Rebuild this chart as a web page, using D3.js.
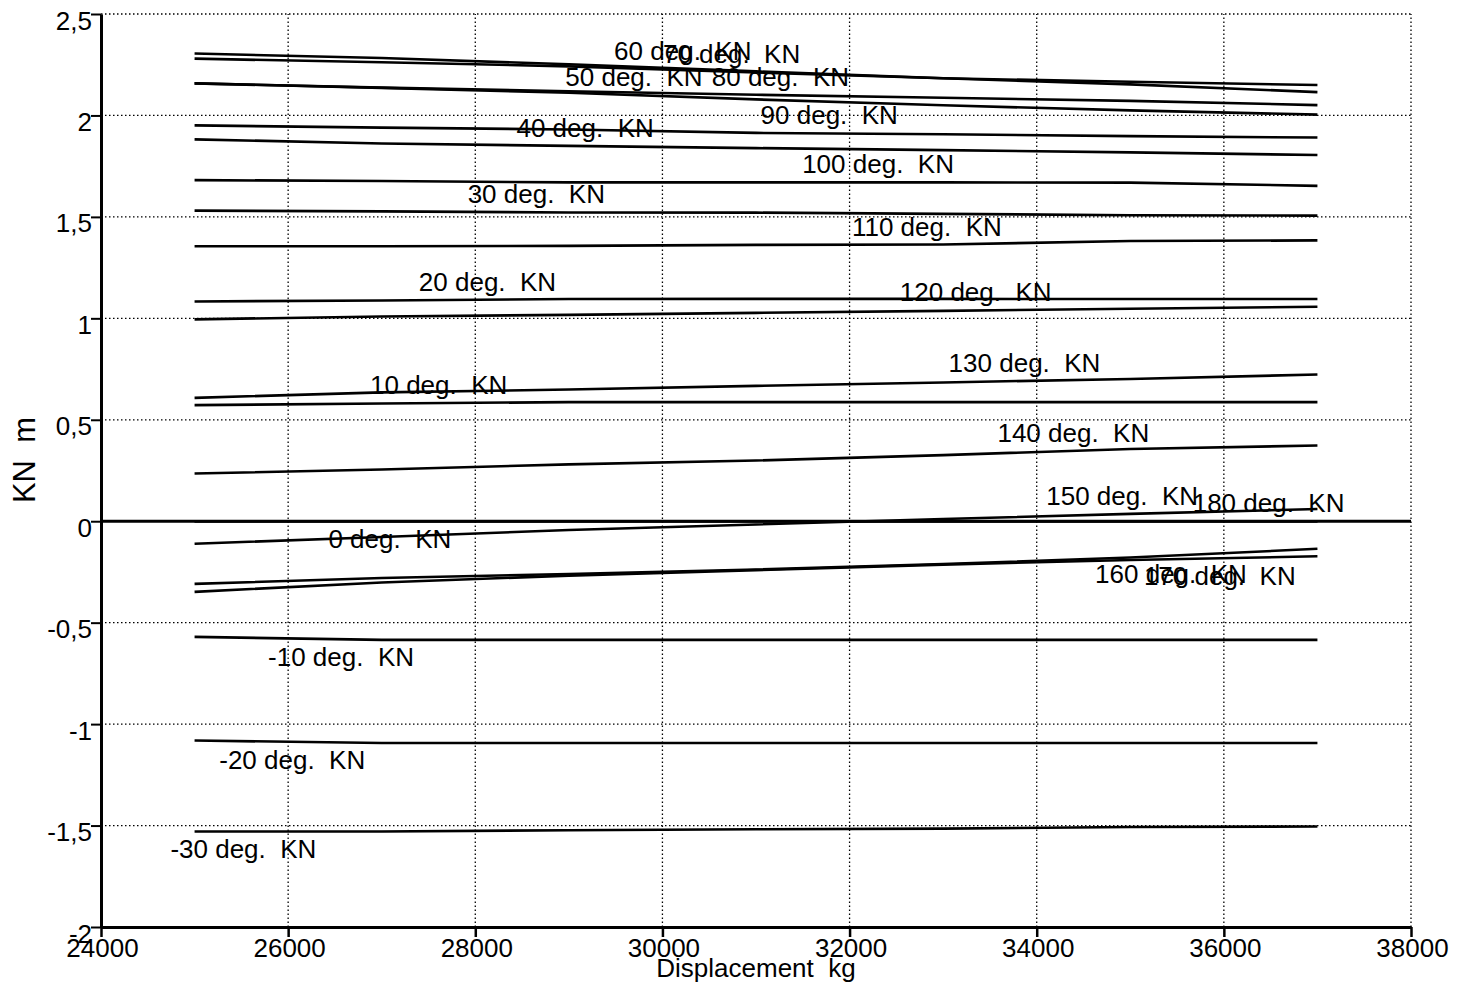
<!DOCTYPE html>
<html>
<head>
<meta charset="utf-8">
<script src="https://cdn.jsdelivr.net/npm/d3@7"></script>
<style>
  body { margin: 0; background: #fff; }
  text { font-family: "Liberation Sans", Arial, sans-serif; font-size: 26px; fill: #000; }
</style>
</head>
<body>
<div id="chart"></div>
<script>
// displacement points (kg) where KN was read
const displacement = [25000, 27000, 29000, 31000, 33000, 35000, 37000];
const xTicks = [24000, 26000, 28000, 30000, 32000, 34000, 36000, 38000];
const yTicks = [-2, -1.5, -1, -0.5, 0, 0.5, 1, 1.5, 2, 2.5];

// KN values (m) per heel angle
const kn_m30 = [-1.529, -1.529, -1.523, -1.518, -1.515, -1.507, -1.505];
const kn_m20 = [-1.081, -1.093, -1.093, -1.093, -1.093, -1.093, -1.093];
const kn_m10 = [-0.570, -0.585, -0.585, -0.585, -0.585, -0.585, -0.585];
const kn_0   = [0, 0, 0, 0, 0, 0, 0];
const kn_10  = [0.572, 0.580, 0.587, 0.587, 0.587, 0.587, 0.587];
const kn_20  = [1.083, 1.088, 1.095, 1.096, 1.096, 1.095, 1.095];
const kn_30  = [1.531, 1.527, 1.522, 1.521, 1.515, 1.508, 1.506];
const kn_40  = [1.882, 1.862, 1.850, 1.839, 1.829, 1.818, 1.805];
const kn_50  = [2.158, 2.136, 2.112, 2.079, 2.050, 2.025, 2.004];
const kn_60  = [2.305, 2.283, 2.252, 2.217, 2.183, 2.153, 2.115];
const kn_70  = [2.280, 2.262, 2.242, 2.212, 2.183, 2.166, 2.150];
const kn_80  = [2.158, 2.137, 2.119, 2.102, 2.087, 2.072, 2.051];
const kn_90  = [1.951, 1.940, 1.931, 1.914, 1.907, 1.898, 1.891];
const kn_100 = [1.681, 1.677, 1.670, 1.670, 1.670, 1.669, 1.653];
const kn_110 = [1.355, 1.355, 1.357, 1.362, 1.364, 1.381, 1.384];
const kn_120 = [0.995, 1.009, 1.017, 1.027, 1.037, 1.047, 1.057];
const kn_130 = [0.608, 0.635, 0.649, 0.667, 0.684, 0.701, 0.723];
const kn_140 = [0.235, 0.255, 0.280, 0.299, 0.326, 0.356, 0.373];
const kn_150 = [-0.111, -0.078, -0.043, -0.016, 0.011, 0.036, 0.060];
const kn_160 = [-0.309, -0.280, -0.260, -0.238, -0.211, -0.179, -0.136];
const kn_170 = [-0.348, -0.302, -0.268, -0.241, -0.214, -0.191, -0.173];
const kn_180 = [0, 0, 0, 0, 0, 0, 0];

const angles = [-30, -20, -10, 0, 10, 20, 30, 40, 50, 60, 70, 80, 90, 100, 110, 120, 130, 140, 150, 160, 170, 180];
const knByAngle = [kn_m30, kn_m20, kn_m10, kn_0, kn_10, kn_20, kn_30, kn_40, kn_50, kn_60, kn_70,
                   kn_80, kn_90, kn_100, kn_110, kn_120, kn_130, kn_140, kn_150, kn_160, kn_170, kn_180];

const series = angles.map((a, i) => ({
    angle: a,
    points: displacement.map((d, j) => ({disp: d, kn: knByAngle[i][j]}))
}));

// page size and plot box
const W = 1472, H = 988;
const margin = {top: 14, right: 61, bottom: 61, left: 101};

const svg = d3.select("#chart")
    .append("svg")
    .attr("width", W)
    .attr("height", H);

const x = d3.scaleLinear()
    .domain([24000, 38000])
    .range([margin.left, W - margin.right]);

const y = d3.scaleLinear()
    .domain([-2, 2.5])
    .range([H - margin.bottom, margin.top]);

// dotted grid
const grid = svg.append("g")
    .attr("stroke", "#000")
    .attr("stroke-width", 1.3)
    .attr("stroke-dasharray", "1.5,2.5");

grid.selectAll(".vgrid")
    .data(xTicks.slice(1))
    .join("line")
    .attr("x1", d => x(d)).attr("x2", d => x(d))
    .attr("y1", y(-2)).attr("y2", y(2.5));

grid.selectAll(".hgrid")
    .data(yTicks.slice(1))
    .join("line")
    .attr("x1", x(24000)).attr("x2", x(38000))
    .attr("y1", d => y(d)).attr("y2", d => y(d));

// zero reference line
svg.append("line")
    .attr("x1", x(24000)).attr("x2", x(38000))
    .attr("y1", y(0)).attr("y2", y(0))
    .attr("stroke", "#000")
    .attr("stroke-width", 3);

const line = d3.line()
    .x(d => x(d.disp))
    .y(d => y(d.kn));

svg.append("g")
    .selectAll("path")
    .data(series)
    .join("path")
    .attr("d", d => line(d.points))
    .attr("fill", "none")
    .attr("stroke", "#000")
    .attr("stroke-width", 2.6)
    .attr("stroke-linejoin", "round");

// axes
const fmt = d => String(d).replace(".", ",");

const yAxis = svg.append("g")
    .attr("transform", `translate(${margin.left},0)`)
    .call(d3.axisLeft(y).tickValues(yTicks).tickFormat(fmt).tickSize(10).tickSizeOuter(0));
yAxis.select(".domain").attr("stroke-width", 3);
yAxis.selectAll(".tick line").attr("stroke-width", 2);
yAxis.selectAll(".tick text")
    .attr("x", -9)
    .attr("dy", null)
    .attr("y", 15)
    .style("font-size", "26px")
    .style("font-family", "Liberation Sans, Arial, sans-serif");

const xAxis = svg.append("g")
    .attr("transform", `translate(0,${H - margin.bottom})`)
    .call(d3.axisBottom(x).tickValues(xTicks).tickFormat(d => d).tickSize(10).tickSizeOuter(0));
xAxis.select(".domain").attr("stroke-width", 3);
xAxis.selectAll(".tick line").attr("stroke-width", 2.5);
xAxis.selectAll(".tick text")
    .attr("dy", null)
    .attr("y", 30)
    .attr("x", 1)
    .style("font-size", "26px")
    .style("font-family", "Liberation Sans, Arial, sans-serif");

// curve labels, staggered along the displacement range
const step = (displacement[displacement.length - 1] - displacement[0]) / (angles.length + 1);
series.forEach((s, i) => {
    const lx = displacement[0] + (i + 1) * step;
    const v = d3.scaleLinear().domain(displacement).range(knByAngle[i])(lx);
    const above = v >= 0 && s.angle > 0;
    svg.append("text")
        .attr("x", x(lx))
        .attr("y", y(v) + (above ? -9 : 27))
        .attr("text-anchor", "middle")
        .style("white-space", "pre")
        .text(`${s.angle} deg.  KN`);
});

// axis titles
svg.append("text")
    .attr("x", (x(24000) + x(38000)) / 2)
    .attr("y", 977)
    .attr("text-anchor", "middle")
    .style("white-space", "pre")
    .text("Displacement  kg");

svg.append("text")
    .attr("transform", "translate(35,460) rotate(-90)")
    .attr("text-anchor", "middle")
    .style("white-space", "pre")
    .style("font-size", "31px")
    .text("KN  m");
</script>
</body>
</html>
